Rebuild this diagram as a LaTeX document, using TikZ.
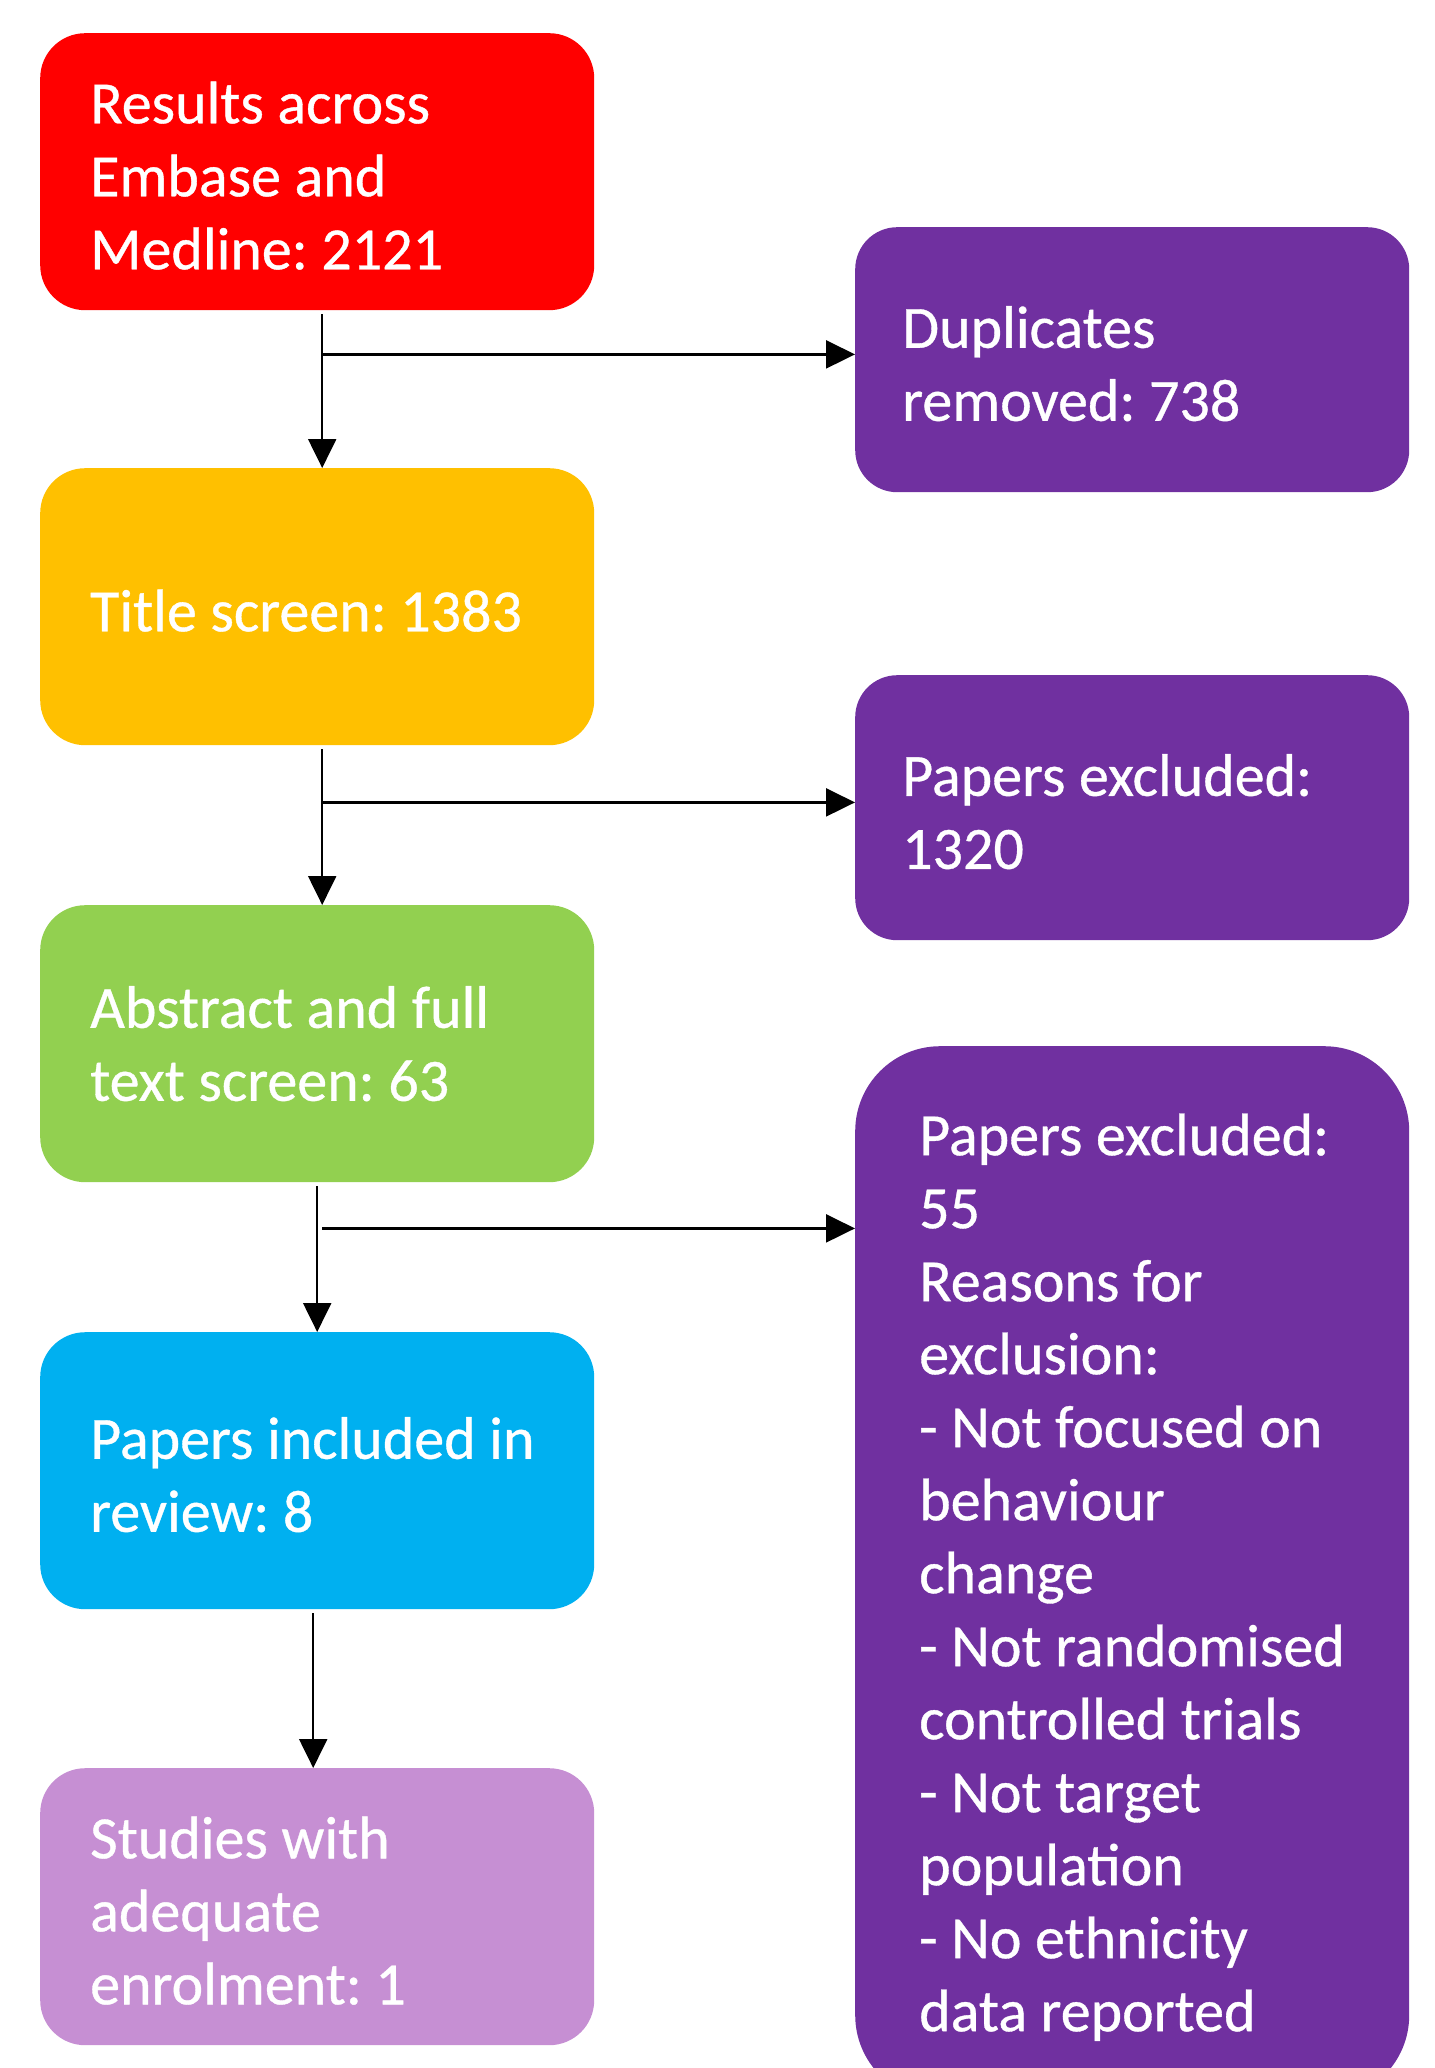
\documentclass[tikz,border=0pt]{standalone}
\usepackage{fontspec}
\setmainfont{Carlito}
\newfontface\boxfont{Carlito}[FakeBold=0.6]
\usetikzlibrary{arrows.meta}
\definecolor{cRed}{HTML}{FF0000}
\definecolor{cOrange}{HTML}{FFC000}
\definecolor{cGreen}{HTML}{92D050}
\definecolor{cBlue}{HTML}{00B0F0}
\definecolor{cLilac}{HTML}{C68FD3}
\definecolor{cPurple}{HTML}{7030A0}
\frenchspacing
\begin{document}
\begin{tikzpicture}[x=1pt,y=-1pt,
  leftbox/.style={rectangle, rounded corners=45pt, inner sep=0pt,
    minimum width=554pt, minimum height=277pt, anchor=north west},
  rightbox/.style={rectangle, rounded corners=42pt, inner sep=0pt, fill=cPurple,
    minimum width=554pt, minimum height=265pt, anchor=north west},
  bigbox/.style={rectangle, rounded corners=85pt, inner sep=0pt, fill=cPurple,
    minimum width=554pt, minimum height=1054pt, anchor=north west},
  txt/.style={anchor=west, inner sep=0pt, align=left, text=white,
    font=\boxfont\fontsize{60}{73}\selectfont, yshift=-4pt},
  conn/.style={line width=2.2pt, draw=black, -{Triangle[length=29pt,width=28pt]}},
  vconn/.style={conn, shorten <=4pt}
]
\useasboundingbox (0,0) rectangle (1434,2068);
\clip (0,0) rectangle (1434,2068);

\node[leftbox, fill=cRed] (red) at (40,33) {};
\node[leftbox, fill=cOrange] (orange) at (40,468) {};
\node[leftbox, fill=cGreen] (green) at (40,905) {};
\node[leftbox, fill=cBlue] (blue) at (40,1332) {};
\node[leftbox, fill=cLilac] (lilac) at (40,1768) {};
\node[rightbox] (dup) at (855,227) {};
\node[rightbox] (excl1) at (855,675) {};
\node[bigbox] (excl2) at (855,1046) {};

\node[txt] (redT) at ([xshift=50pt]red.west) {Results across\\Embase and\\Medline: 2121};
\node[txt] (orangeT) at ([xshift=50pt]orange.west) {Title screen: 1383};
\node[txt, yshift=4pt] (greenT) at ([xshift=50pt]green.west) {Abstract and full\\text screen: 63};
\node[txt] (blueT) at ([xshift=50pt]blue.west) {Papers included in\\review: 8};
\node[txt] (lilacT) at ([xshift=50pt]lilac.west) {Studies with\\adequate\\enrolment: 1};
\node[txt] (dupT) at ([xshift=47pt]dup.west) {Duplicates\\removed: 738};
\node[txt] (excl1T) at ([xshift=47pt]excl1.west) {Papers excluded:\\1320};
\node[txt] (excl2T) at ([xshift=64pt]excl2.west) {Papers excluded:\\55\\Reasons for\\exclusion:\\- Not focused on\\behaviour\\change\\- Not randomised\\controlled trials\\- Not target\\population\\- No ethnicity\\data reported};

\path ([xshift=5pt]red.south) ++(0,44) coordinate (b1);
\path ([xshift=5pt]orange.south) ++(0,57) coordinate (b2);
\path ([xshift=5pt]green.south) ++(0,46) coordinate (b3);

\draw[vconn] ([xshift=5pt]red.south) -- ([xshift=5pt]orange.north);
\draw[conn] (b1) -- (b1 -| dup.west);
\draw[vconn] ([xshift=5pt]orange.south) -- ([xshift=5pt]green.north);
\draw[conn] (b2) -- (b2 -| excl1.west);
\draw[vconn] (green.south) -- (blue.north);
\draw[conn] (b3) -- (b3 -| excl2.west);
\draw[vconn] ([xshift=-4pt]blue.south) -- ([xshift=-4pt]lilac.north);
\end{tikzpicture}
\end{document}
